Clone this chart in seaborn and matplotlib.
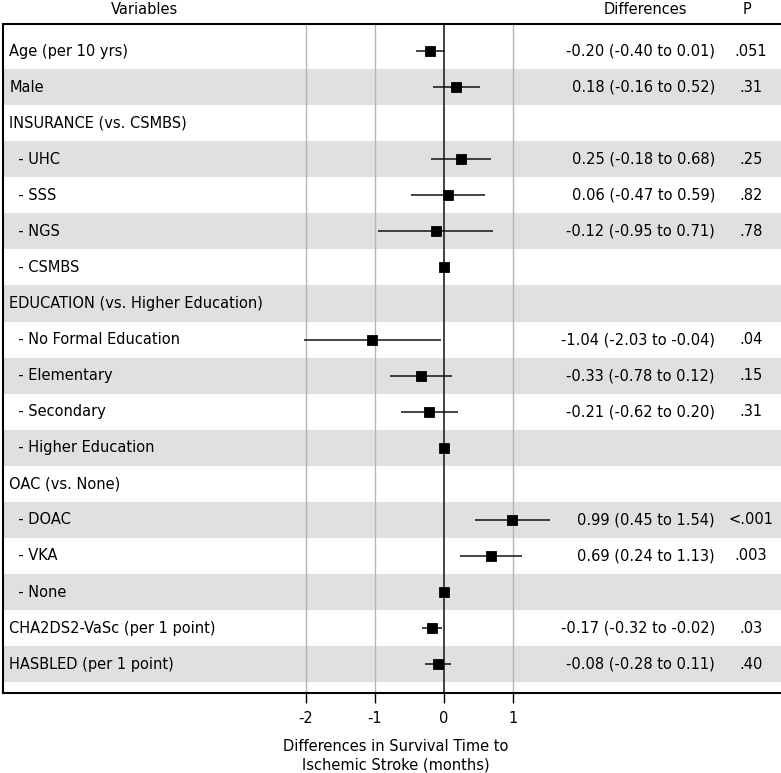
import numpy as np
import pandas as pd
import matplotlib
matplotlib.use("Agg")
import matplotlib.pyplot as plt
import seaborn as sns

# dados
variables = ["Age (per 10 yrs)", "Male", "INSURANCE (vs. CSMBS)", "- UHC", "- SSS", "- NGS",
             "- CSMBS", "EDUCATION (vs. Higher Education)", "- No Formal Education",
             "- Elementary", "- Secondary", "- Higher Education", "OAC (vs. None)",
             "- DOAC", "- VKA", "- None", "CHA2DS2-VaSc (per 1 point)", "HASBLED (per 1 point)"]
estimate = [-0.20, 0.18, np.nan, 0.25, 0.06, -0.12, 0.0, np.nan, -1.04, -0.33, -0.21, 0.0,
            np.nan, 0.99, 0.69, 0.0, -0.17, -0.08]
lower = [-0.40, -0.16, np.nan, -0.18, -0.47, -0.95, np.nan, np.nan, -2.03, -0.78, -0.62, np.nan,
         np.nan, 0.45, 0.24, np.nan, -0.32, -0.28]
upper = [0.01, 0.52, np.nan, 0.68, 0.59, 0.71, np.nan, np.nan, -0.04, 0.12, 0.20, np.nan,
         np.nan, 1.54, 1.13, np.nan, -0.02, 0.11]
p_values = [".051", ".31", "", ".25", ".82", ".78", "", "", ".04", ".15", ".31", "",
            "", "<.001", ".003", "", ".03", ".40"]

# subcategorias com recuo
variables = [("  " + v) if v.startswith("- ") else v for v in variables]

df = pd.DataFrame({"var": variables, "est": estimate, "lo": lower, "hi": upper, "p": p_values})
df["row"] = np.arange(len(df))

sns.set_style("white")
plt.rcParams["font.family"] = ["DejaVu Sans"]
plt.rcParams["text.color"] = "black"

fig = plt.figure(figsize=(7.81, 7.73), dpi=100)
ax = fig.add_axes([3 / 781, 1 - 693 / 773, 1 - 3 / 781 + 0.01, (693 - 24) / 773])

n = len(df)
fs = 10.5
# faixas cinza alternadas
for i in range(n):
    if i % 2 == 1:
        ax.axhspan(i - 0.5, i + 0.5, color="#e0e0e0", zorder=0, lw=0)

for gx in [-2, -1, 1]:
    ax.axvline(gx, color="#b5b5b5", lw=1, zorder=1)
ax.axvline(0, color="#333333", lw=1.3, zorder=2)

ax.hlines(df["row"], df["lo"], df["hi"], color="#111111", lw=1.1, zorder=3)
sns.scatterplot(data=df.dropna(subset=["est"]), x="est", y="row", marker="s", s=55,
                color="black", edgecolor="black", zorder=4, ax=ax, legend=False)

def fmt(r):
    if np.isnan(r["lo"]):
        return ""
    return f"{r['est']:.2f} ({r['lo']:.2f} to {r['hi']:.2f})"

for _, r in df.iterrows():
    ax.text(-6.30, r["row"], r["var"], ha="left", va="center", fontsize=fs, color="black")
    ax.text(3.93, r["row"], fmt(r), ha="right", va="center", fontsize=fs, color="black")
    ax.text(4.45, r["row"], r["p"], ha="center", va="center", fontsize=fs, color="black")

ax.set_xlim(-6.39, 5.0)
ax.set_ylim(n - 1 + 0.80, -0.75)
ax.set_xticks([-2, -1, 0, 1])
ax.set_xticklabels(["-2", "-1", "0", "1"], fontsize=fs, color="black")
ax.set_yticks([])
ax.tick_params(axis="x", direction="out", length=7, width=1, color="black", pad=6, bottom=True)
for s in ax.spines.values():
    s.set_color("black")
    s.set_linewidth(1.5)
ax.set_xlabel("Differences in Survival Time to\nIschemic Stroke (months)", fontsize=fs,
              labelpad=9, color="black", linespacing=1.35)
ax.set_ylabel("")

fig.text(145 / 781, 1 - 10 / 773, "Variables", ha="center", va="center", fontsize=fs)
fig.text(645 / 781, 1 - 10 / 773, "Differences", ha="center", va="center", fontsize=fs)
fig.text(747 / 781, 1 - 10 / 773, "P", ha="center", va="center", fontsize=fs)

fig.savefig("out.png", dpi=100)
